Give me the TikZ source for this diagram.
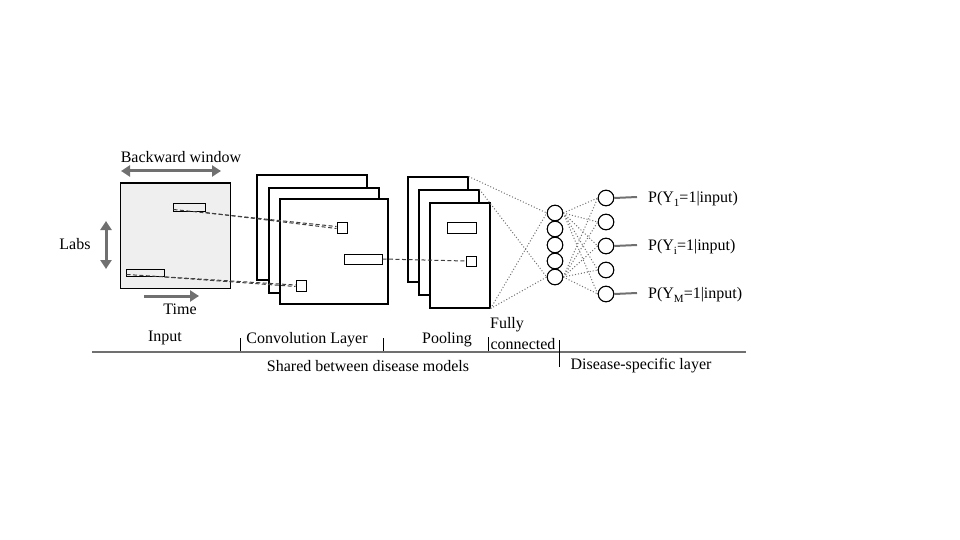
\documentclass[tikz,border=0pt]{standalone}
\usepackage{fontspec}
\setmainfont{Liberation Serif}
\usetikzlibrary{arrows.meta}
\definecolor{arrgray}{HTML}{707070}
\definecolor{boxgray}{HTML}{EFEFEF}
\definecolor{dotgray}{HTML}{707070}
\newcommand{\lowsub}[1]{\raisebox{-3.5pt}{\fontsize{11}{11}\selectfont #1}}
\tikzset{
  lbl/.style={inner sep=0pt, font=\fontsize{16}{18}\selectfont},
  sheet/.style={draw=black, line width=1.1pt, fill=white},
  tiny/.style={draw=black, line width=1pt, fill=white},
  garrow/.style={draw=arrgray, line width=3pt, {Triangle[length=9pt,width=11pt]}-{Triangle[length=9pt,width=11pt]}},
  garrowone/.style={draw=arrgray, line width=3pt, -{Triangle[length=9pt,width=11pt]}},
  dash1/.style={draw=black!75, dashed, dash pattern=on 4pt off 2.5pt, line width=1pt},
  dotln/.style={draw=dotgray, dotted, line width=1pt},
  neuron/.style={circle, draw=black, line width=1pt, minimum size=15.5pt, inner sep=0pt, fill=white},
  outln/.style={draw=arrgray, line width=2pt},
  tick/.style={draw=black, line width=0.9pt},
}
\begin{document}
\begin{tikzpicture}[x=1pt,y=-1pt]
\useasboundingbox (0,0) rectangle (960,540);

% ---------- Input ----------
\node[draw=black, line width=1pt, fill=boxgray, minimum width=110pt, minimum height=105pt, inner sep=0pt] (inbox) at (175,235.5) {};
\node[lbl] (bw) at (181,157) {Backward window};
\coordinate (bwl) at (121,171);
\coordinate (bwr) at (221,171);
\draw[garrow] (bwl) -- (bwr);
\node[lbl] (labs) at (75,244) {Labs};
\coordinate (lbt) at (106,221);
\coordinate (lbb) at (106,269);
\draw[garrow] (lbt) -- (lbb);
\coordinate (tml) at (144,296);
\coordinate (tmr) at (199,296);
\draw[garrowone] (tml) -- (tmr);
\node[lbl] (time) at (180,309) {Time};

\node[tiny, fill=boxgray, minimum width=32pt, minimum height=8pt, inner sep=0pt] (r1) at (189,207) {};
\node[tiny, fill=boxgray, minimum width=38pt, minimum height=7pt, inner sep=0pt] (r2) at (145,272.5) {};

% ---------- Convolution ----------
\node[sheet, minimum width=110pt, minimum height=105pt, inner sep=0pt] (c1) at (312,227.5) {};
\node[sheet, minimum width=110pt, minimum height=105pt, inner sep=0pt] (c2) at (324,240.5) {};
\node[sheet, minimum width=108pt, minimum height=105pt, inner sep=0pt] (c3) at (334,251.5) {};
\node[tiny, minimum width=10pt, minimum height=11pt, inner sep=0pt] (s1) at (342,227.5) {};
\node[tiny, minimum width=10pt, minimum height=11pt, inner sep=0pt] (s2) at (301,285.5) {};
\node[tiny, minimum width=38pt, minimum height=10pt, inner sep=0pt] (r3) at (363,259) {};

% dashed links input -> conv
\draw[dash1] ([xshift=1pt,yshift=2pt]r1.south west) -- ([yshift=1pt]s1.west);
\draw[dash1] ([yshift=-1pt]r1.south east) -- ([yshift=-1pt]s1.west);
\draw[dash1] ([xshift=1pt,yshift=2pt]r2.south west) -- ([yshift=0.5pt]s2.west);
\draw[dash1] ([yshift=-0.5pt]r2.south east) -- ([yshift=-1pt]s2.west);

% ---------- Pooling ----------
\node[sheet, minimum width=60pt, minimum height=105pt, inner sep=0pt] (p1) at (438,229.5) {};
\node[sheet, minimum width=60pt, minimum height=105pt, inner sep=0pt] (p2) at (449,242.5) {};
\node[sheet, minimum width=60pt, minimum height=105pt, inner sep=0pt] (p3) at (460,255.5) {};
\node[tiny, minimum width=29pt, minimum height=11pt, inner sep=0pt] (r4) at (461.5,227.5) {};
\node[tiny, minimum width=10pt, minimum height=10pt, inner sep=0pt] (s3) at (471,261) {};
\draw[dash1] (r3.east) -- (s3.west);

% ---------- Fully connected ----------
\foreach \i/\y in {1/213,2/229,3/245,4/261,5/277}{
  \node[neuron] (f\i) at (555,\y) {};
}
% ---------- Outputs ----------
\foreach \i/\y in {1/198,2/222,3/246,4/270,5/294}{
  \node[neuron] (o\i) at (606,\y) {};
}

% dotted links pooling -> FC
\draw[dotln] (p1.north east) -- (f1.west);
\draw[dotln] (p2.north east) -- (f5.west);
\draw[dotln] (p3.south east) -- (f1.west);
\draw[dotln] (p3.south east) -- (f5.west);
% dotted links FC -> outputs
\foreach \j in {1,2,3,4,5}{
  \draw[dotln] (f1.east) -- (o\j.west);
  \draw[dotln] (f5.east) -- (o\j.west);
}
% redraw neurons on top
\foreach \i in {1,...,5}{
  \node[neuron] at (f\i) {};
  \node[neuron] at (o\i) {};
}

% output lines and labels
\coordinate (e1) at (637,197);
\coordinate (e3) at (637,245);
\coordinate (e5) at (637,293);
\draw[outln] (o1.east) -- (e1);
\draw[outln] (o3.east) -- (e3);
\draw[outln] (o5.east) -- (e5);
\node[lbl, anchor=west] (pl1) at (648,199) {P(Y\lowsub{1}=1|input)};
\node[lbl, anchor=west] (pl2) at (648,247) {P(Y\lowsub{i}=1|input)};
\node[lbl, anchor=west] (pl3) at (648,295) {P(Y\lowsub{M}=1|input)};

% ---------- Bottom labels ----------
\coordinate (bl) at (92,352);
\coordinate (br) at (746,352);
\draw[draw=arrgray, line width=2pt] (bl) -- (br);
\coordinate (t1a) at (240,338); \coordinate (t1b) at (240,351);
\coordinate (t2a) at (383,338); \coordinate (t2b) at (383,351);
\coordinate (t3a) at (488,337); \coordinate (t3b) at (488,351);
\coordinate (t4a) at (559,340); \coordinate (t4b) at (559,367);
\draw[tick] (t1a) -- (t1b);
\draw[tick] (t2a) -- (t2b);
\draw[tick] (t3a) -- (t3b);
\draw[tick] (t4a) -- (t4b);
\node[lbl] (linput) at (165,338) {Input};
\node[lbl] (lconv) at (307,340) {Convolution Layer};
\node[lbl] (lpool) at (447,340) {Pooling};
\node[lbl] (lfully) at (507,325) {Fully};
\node[lbl] (lconn) at (523,344) {connected};
\node[lbl] (lshared) at (368,366) {Shared between disease models};
\node[lbl] (ldis) at (641,366) {Disease-specific layer};
\end{tikzpicture}
\end{document}
